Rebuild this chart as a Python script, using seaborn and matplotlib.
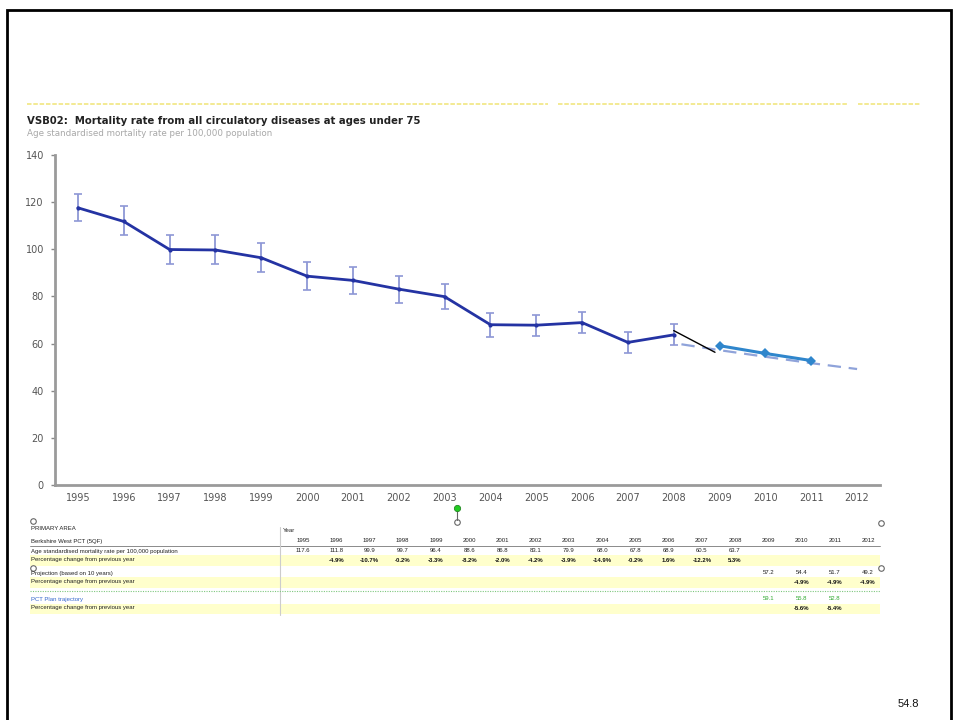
import numpy as np
import pandas as pd
import seaborn as sns
import matplotlib.pyplot as plt
from matplotlib.patches import Rectangle
from matplotlib.lines import Line2D

years = list(range(1995, 2009))
rate = [117.6, 111.8, 99.9, 99.7, 96.4, 88.6, 86.8, 83.1, 79.9, 68.0, 67.8, 68.9, 60.5, 63.7]
ci_low = [112.0, 105.9, 93.8, 93.6, 90.5, 82.6, 81.0, 77.4, 74.5, 63.0, 63.4, 64.5, 56.0, 59.2]
ci_high = [123.6, 118.2, 105.9, 105.9, 102.5, 94.5, 92.6, 88.7, 85.3, 73.0, 72.3, 73.4, 65.0, 68.2]
pct_change = ["", "-4.9%", "-10.7%", "-0.2%", "-3.3%", "-8.2%", "-2.0%", "-4.2%", "-3.9%",
              "-14.9%", "-0.2%", "1.6%", "-12.2%", "5.3%"]

proj_years = [2008, 2009, 2010, 2011, 2012]
proj_rate = [60.2, 57.2, 54.4, 51.7, 49.2]
proj_pct = ["", "", "-4.9%", "-4.9%", "-4.9%"]

plan_years = [2009, 2010, 2011]
plan_rate = [59.1, 55.8, 52.8]
plan_pct = ["", "-5.6%", "-5.4%"]

all_years = list(range(1995, 2013))

W, H = 954, 720


def fx(x):
    return x / W


def fy(y):
    return 1 - y / H


sns.set_style("white")
plt.rcParams['font.family'] = ['DejaVu Sans']

fig = plt.figure(figsize=(9.54, 7.2), dpi=100)
ax = fig.add_axes([fx(55), fy(485), fx(880) - fx(55), fy(155) - fy(485)])

main_df = pd.DataFrame({"year": years, "rate": rate})
proj_df = pd.DataFrame({"year": proj_years, "rate": proj_rate})
plan_df = pd.DataFrame({"year": plan_years, "rate": plan_rate})

# error bars (confidence interval)
err = np.array([np.array(rate) - np.array(ci_low), np.array(ci_high) - np.array(rate)])
ax.errorbar(years, rate, yerr=err, fmt="none", ecolor="#8e97d6", elinewidth=1.3,
            capsize=3, capthick=1.2, zorder=2)

# projection (dashed), pattern starts with a gap as on the slide
sns.lineplot(data=proj_df, x="year", y="rate", ax=ax, color="#8fa3da", linewidth=1.6,
             linestyle=(6, (6, 3.5)), zorder=3)

# main series
sns.lineplot(data=main_df, x="year", y="rate", ax=ax, color="#2433a3", linewidth=2,
             marker="o", markersize=3, markeredgewidth=0, zorder=4)

# PCT plan trajectory
sns.lineplot(data=plan_df, x="year", y="rate", ax=ax, color="#2f86cc", linewidth=2.2,
             marker="D", markersize=5, markeredgewidth=0, zorder=5)

# leader line drawn on the slide
ax.plot([2008, 2008.9], [65.5, 56.3], color="black", linewidth=1, zorder=6)

ax.set_xlim(1994.5, 2012.5)
ax.set_ylim(0, 140)
ax.set_yticks(range(0, 141, 20))
ax.set_xticks(all_years)
ax.set_xticks(np.arange(1994.5, 2013, 1), minor=True)
ax.tick_params(axis="x", which="major", length=0, pad=6, labelsize=7, labelcolor="#555555")
ax.tick_params(axis="x", which="minor", length=3, width=1.2, color="#888888", direction="inout")
ax.tick_params(axis="y", length=3, width=1, color="#888888", labelsize=7,
               labelcolor="#555555", pad=5, left=True)
ax.set_xlabel("")
ax.set_ylabel("")
for side in ["top", "right"]:
    ax.spines[side].set_visible(False)
for side in ["left", "bottom"]:
    ax.spines[side].set_color("#9a9a9a")
    ax.spines[side].set_linewidth(2)

# slide frame
fig.patches.append(Rectangle((fx(7), fy(725)), fx(951) - fx(7), fy(10) - fy(725),
                             transform=fig.transFigure, fill=False, edgecolor="black",
                             linewidth=2, clip_on=False))

# yellow dotted header lines
for x0, x1 in [(27, 548), (558, 848), (858, 920)]:
    fig.add_artist(Line2D([fx(x0), fx(x1)], [fy(104), fy(104)], transform=fig.transFigure,
                          color="#f2e88a", linewidth=1.3, linestyle=(0, (2.5, 1))))

fig.text(fx(27), fy(121), "VSB02:  Mortality rate from all circulatory diseases at ages under 75",
         fontsize=7.3, fontweight="bold", color="#222222", va="center")
fig.text(fx(27), fy(133), "Age standardised mortality rate per 100,000 population",
         fontsize=6.3, color="#a8a8a8", va="center")

# table under the chart
tfont = dict(family="Liberation Sans", fontsize=4.3, va="center")
cols = np.linspace(303, 868, len(all_years))
col_x = dict(zip(all_years, cols))

for yc in [560, 582, 608.5]:
    fig.patches.append(Rectangle((fx(30), fy(yc + 5.5)), fx(880) - fx(30), fy(yc - 5) - fy(yc + 5.5),
                                 transform=fig.transFigure, facecolor="#ffffcc",
                                 edgecolor="none", zorder=0))

fig.add_artist(Line2D([fx(30), fx(880)], [fy(546), fy(546)], transform=fig.transFigure,
                      color="#777777", linewidth=0.6))
fig.add_artist(Line2D([fx(280), fx(280)], [fy(527), fy(615)], transform=fig.transFigure,
                      color="#cccccc", linewidth=0.8))
fig.add_artist(Line2D([fx(30), fx(880)], [fy(591), fy(591)], transform=fig.transFigure,
                      color="#7fc77f", linewidth=0.8, linestyle=(0, (1, 1.2))))

fig.text(fx(31), fy(528), "PRIMARY AREA", color="#222222", **tfont)
fig.text(fx(283), fy(530), "Year", color="#222222", **tfont)
fig.text(fx(31), fy(541), "Berkshire West PCT (5QF)", color="#222222", **tfont)
fig.text(fx(31), fy(551), "Age standardised mortality rate per 100,000 population", color="#222222", **tfont)
fig.text(fx(31), fy(560), "Percentage change from previous year", color="#222222", **tfont)
fig.text(fx(31), fy(573), "Projection (based on 10 years)", color="#222222", **tfont)
fig.text(fx(31), fy(582), "Percentage change from previous year", color="#222222", **tfont)
fig.text(fx(31), fy(599), "PCT Plan trajectory", color="#3366cc", **tfont)
fig.text(fx(31), fy(608), "Percentage change from previous year", color="#222222", **tfont)

for yr in all_years:
    fig.text(fx(col_x[yr]), fy(541), str(yr), ha="center", color="#222222", **tfont)

for yr, v, p in zip(years, rate, pct_change):
    fig.text(fx(col_x[yr]), fy(551), f"{v:.1f}", ha="center", color="#222222", **tfont)
    if p:
        fig.text(fx(col_x[yr]), fy(560), p, ha="center", color="#111111",
                 fontweight="bold", **tfont)

for yr, v, p in zip(proj_years[1:], proj_rate[1:], proj_pct[1:]):
    fig.text(fx(col_x[yr]), fy(573), f"{v:.1f}", ha="center", color="#222222", **tfont)
    if p:
        fig.text(fx(col_x[yr]), fy(582), p, ha="center", color="#111111",
                 fontweight="bold", **tfont)

for yr, v, p in zip(plan_years, plan_rate, plan_pct):
    fig.text(fx(col_x[yr]), fy(599), f"{v:.1f}", ha="center", color="#33aa33", **tfont)
    if p:
        fig.text(fx(col_x[yr]), fy(608), p, ha="center", color="#111111",
                 fontweight="bold", **tfont)

# selection handles left on the slide
hx = [33, 457, 881, 33, 881]
hy = [521, 522, 523, 568, 568]
for x, y in zip(hx, hy):
    fig.add_artist(Line2D([fx(x)], [fy(y)], transform=fig.transFigure, marker="o",
                          markersize=4, markerfacecolor="white", markeredgecolor="#666666",
                          markeredgewidth=0.8, linestyle="none"))
fig.add_artist(Line2D([fx(457), fx(457)], [fy(509), fy(520)], transform=fig.transFigure,
                      color="#666666", linewidth=0.8))
fig.add_artist(Line2D([fx(457)], [fy(508)], transform=fig.transFigure, marker="o",
                      markersize=4.5, markerfacecolor="#22cc22", markeredgecolor="#228822",
                      markeredgewidth=0.6, linestyle="none"))

fig.text(fx(908), fy(704), "54.8", fontsize=8, family="Liberation Sans", ha="center",
         va="center", color="#111111")

fig.savefig("out.png", dpi=100)
